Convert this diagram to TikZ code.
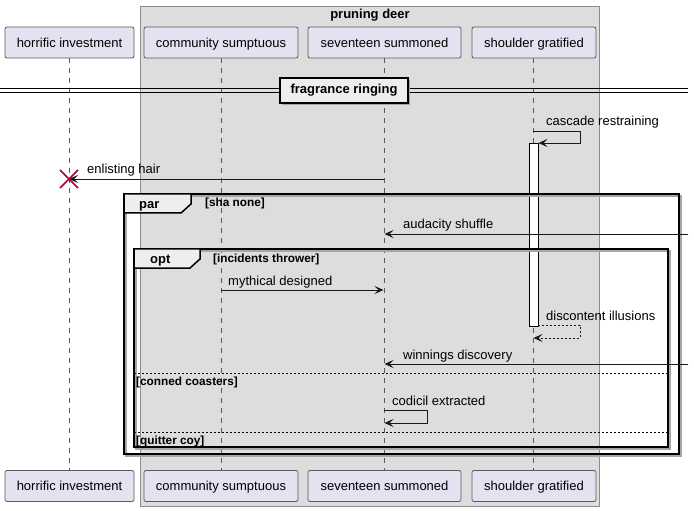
\documentclass[tikz,border=0pt]{standalone}
\usepackage{fontspec}
\setmainfont{Liberation Sans}
\usepackage{tikz}
\usetikzlibrary{arrows.meta,positioning}
\definecolor{partfill}{HTML}{E2E2F0}
\definecolor{partline}{HTML}{5A5A5A}
\definecolor{boxfill}{HTML}{DDDDDD}
\definecolor{tabfill}{HTML}{EEEEEE}
\definecolor{killred}{HTML}{A80036}
\tikzset{
  part/.style={draw=partline, fill=partfill, rounded corners=2bp, line width=0.8bp,
    minimum height=31bp, inner sep=0pt, text height=11bp, text depth=1.5bp,
    font=\fontsize{13bp}{15bp}\selectfont},
  life/.style={draw=partline, dash pattern=on 5bp off 5bp, line width=0.8bp},
  msg/.style={draw=black!90, line width=0.9bp, -{Stealth[length=9bp,width=8bp,inset=4bp]}},
  lbl/.style={anchor=base west, inner sep=0pt, font=\fontsize{13bp}{15bp}\selectfont},
  cond/.style={anchor=base west, inner sep=0pt, font=\fontsize{11.8bp}{13bp}\selectfont\bfseries},
  frm/.style={draw=black, line width=1.5bp},
  shade/.style={draw=black!35, line width=1.5bp}
}
\begin{document}
\begin{tikzpicture}[x=1bp,y=-1bp]
  \useasboundingbox (0,0) rectangle (694,511);
  \fill[white] (0,0) rectangle (694,511);

  \draw[draw=black!45, fill=boxfill, line width=0.8bp] (140,6) rectangle (599,506);
  \node[anchor=base, inner sep=0pt, font=\fontsize{13bp}{15bp}\selectfont\bfseries] (grp) at (370,19) {pruning deer};

  \node[part, minimum width=129bp] (hiT) at (69.5,42.5) {horrific investment};
  \node[part, minimum width=154bp] (csT) at (221,42.5) {community sumptuous};
  \node[part, minimum width=153bp] (ssT) at (384.5,42.5) {seventeen summoned};
  \node[part, minimum width=124bp] (sgT) at (534,42.5) {shoulder gratified};
  \node[part, minimum width=129bp] (hiB) at (69.5,486) {horrific investment};
  \node[part, minimum width=154bp] (csB) at (221,486) {community sumptuous};
  \node[part, minimum width=153bp] (ssB) at (384.5,486) {seventeen summoned};
  \node[part, minimum width=124bp] (sgB) at (534,486) {shoulder gratified};

  \draw[life] (69,58) -- (69,470);
  \draw[life] (221,58) -- (221,470);
  \draw[life] (384,58) -- (384,470);
  \draw[life] (533,58) -- (533,470);

  \draw[line width=1bp] (0,89) -- (688,89) (0,93) -- (688,93);
  \fill[black!35] (282,80) rectangle (410,105);
  \node[draw=black, fill=tabfill, line width=1.5bp, minimum width=128bp, minimum height=25bp,
    inner sep=0pt, font=\fontsize{13bp}{15bp}\selectfont\bfseries] (sep) at (344,90.5) {fragrance ringing};

  \coordinate (casA) at (533,131);
  \coordinate (casB) at (538.5,143);
  \draw[msg] (casA) -- (580,131) -- (580,143) -- (casB);
  \node[lbl] (casL) at (546,126) {cascade restraining};
  \draw[fill=white, line width=0.9bp] (529,143) rectangle (538,326);

  \coordinate (killPt) at (69,179);
  \draw[msg] (384,179) -- (killPt);
  \node[lbl] (enlL) at (87,174) {enlisting hair};
  \draw[killred, line width=1.6bp] (60,170) -- (78,188) (60,188) -- (78,170);

  \draw[shade] (126,196) rectangle (681,456);
  \draw[frm] (124,194) rectangle (679,454);
  \draw[frm, fill=tabfill] (124,194) -- (191,194) -- (191,204) -- (181,213) -- (124,213) -- cycle;
  \node[anchor=base west, inner sep=0pt, font=\fontsize{13bp}{15bp}\selectfont\bfseries] (parL) at (139,209) {par};
  \node[cond] (parC) at (205,207) {[sha none]};

  \coordinate (audR) at (688,234);
  \draw[msg] (audR) -- (384.5,234);
  \node[lbl] (audL) at (403,229) {audacity shuffle};

  \draw[shade] (136,251) rectangle (670,449);
  \draw[frm] (134,249) rectangle (668,447);
  \draw[frm, fill=tabfill] (134,249) -- (200,249) -- (200,259) -- (190,268) -- (134,268) -- cycle;
  \node[anchor=base west, inner sep=0pt, font=\fontsize{13bp}{15bp}\selectfont\bfseries] (optL) at (150,264) {opt};
  \node[cond] (optC) at (213,263) {[incidents thrower]};

  \draw[msg] (221,290) -- (383.5,290);
  \node[lbl] (mytL) at (228,285) {mythical designed};

  \draw[msg, dash pattern=on 2bp off 2bp] (538,325) -- (580,325) -- (580,338) -- (533.5,338);
  \node[lbl] (disL) at (546,320) {discontent illusions};

  \coordinate (winR) at (688,364);
  \draw[msg] (winR) -- (384.5,364);
  \node[lbl] (winL) at (403,359) {winnings discovery};

  \draw[line width=0.8bp, dash pattern=on 2bp off 2bp] (134,373) -- (668,373);
  \node[cond] (conC) at (136,385) {[conned coasters]};

  \draw[msg] (384,410) -- (427,410) -- (427,423) -- (384.5,423);
  \node[lbl] (codL) at (392,405) {codicil extracted};

  \draw[line width=0.8bp, dash pattern=on 2bp off 2bp] (134,432) -- (668,432);
  \node[cond] (quiC) at (136,444) {[quitter coy]};
\end{tikzpicture}
\end{document}
